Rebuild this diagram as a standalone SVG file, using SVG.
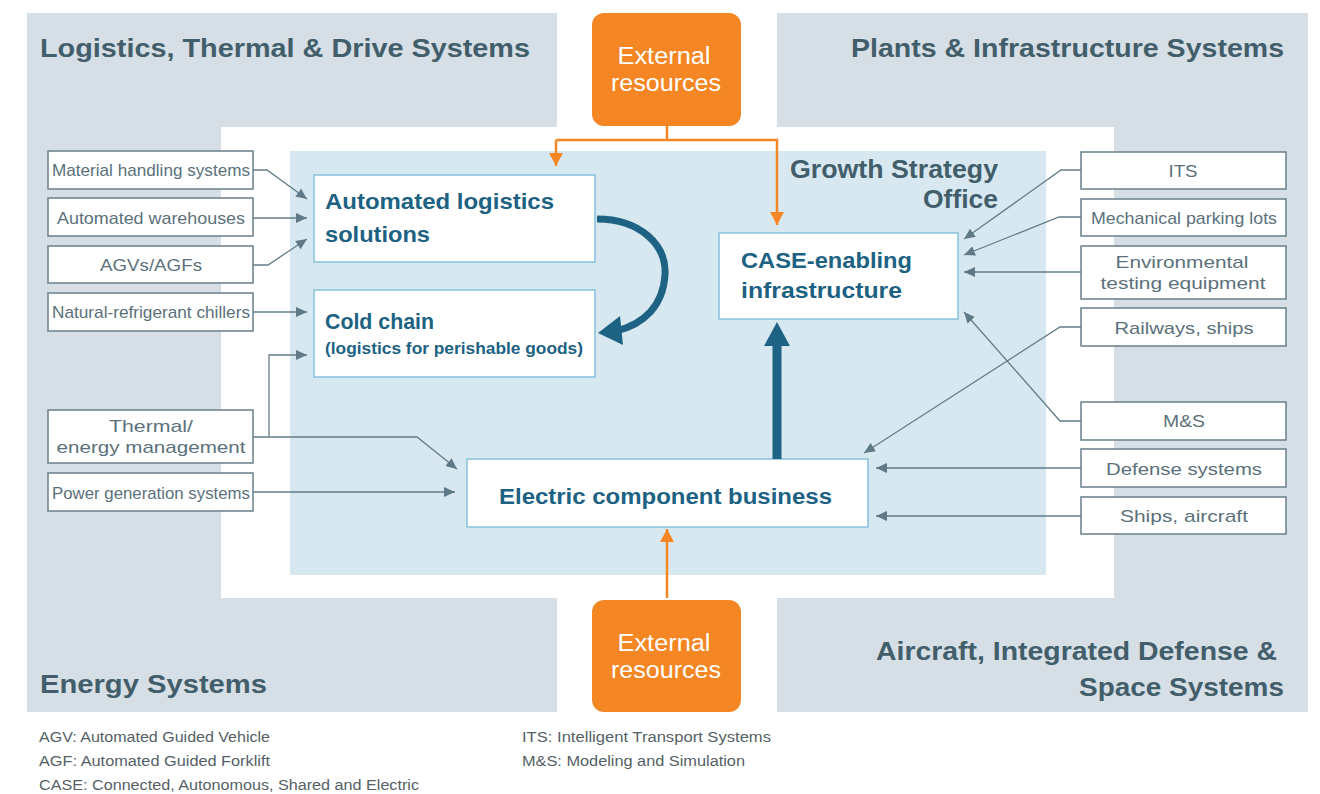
<svg xmlns="http://www.w3.org/2000/svg" width="1320" height="794" viewBox="0 0 1320 794">
<style>
.quad{fill:#d6dfe5}
.title{font-family:"Liberation Sans",Arial,sans-serif;font-weight:bold;font-size:26px;fill:#425e6b}
.main{fill:#ffffff;stroke:#86c1dc;stroke-width:1.5}
.mt{font-family:"Liberation Sans",Arial,sans-serif;font-weight:bold;font-size:22px;fill:#1d6283}
.sb{fill:#ffffff;stroke:#687f8a;stroke-width:1.5}
.st{font-family:"Liberation Sans",Arial,sans-serif;font-size:17px;fill:#5b717b;text-anchor:middle}
.ext{fill:#f48623}
.et{font-family:"Liberation Sans",Arial,sans-serif;font-size:23px;fill:#ffffff;text-anchor:middle}
.conn{fill:none;stroke:#637d89;stroke-width:1.3}
.oc{fill:none;stroke:#f48623;stroke-width:2.5}
.fn{font-family:"Liberation Sans",Arial,sans-serif;font-size:14px;fill:#555f66}
</style>
<defs>
<marker id="ah" markerUnits="userSpaceOnUse" markerWidth="12" markerHeight="10" refX="11" refY="5" orient="auto">
<path d="M0,0 L11,5 L0,10 z" fill="#5f7a86"/>
</marker>
<marker id="oh" markerUnits="userSpaceOnUse" markerWidth="14" markerHeight="14" refX="13" refY="7" orient="auto">
<path d="M0,0 L13,7 L0,14 z" fill="#f48623"/>
</marker>
</defs>

<g id="background">
<rect class="quad" x="27" y="13" width="1281" height="699"/>
<rect x="557" y="13" width="220" height="699" fill="#ffffff"/>
<rect x="221" y="127" width="893" height="471" fill="#ffffff"/>
<rect x="290" y="151" width="756" height="424" fill="#d8e8f1"/>
</g>

<g id="quadrant-titles">
<text class="title" x="40" y="57" textLength="490" lengthAdjust="spacingAndGlyphs">Logistics, Thermal &amp; Drive Systems</text>
<text class="title" x="851" y="57" textLength="433" lengthAdjust="spacingAndGlyphs">Plants &amp; Infrastructure Systems</text>
<text class="title" x="40" y="693" textLength="227" lengthAdjust="spacingAndGlyphs">Energy Systems</text>
<text class="title" x="876" y="660" textLength="401" lengthAdjust="spacingAndGlyphs">Aircraft, Integrated Defense &amp;</text>
<text class="title" x="1079" y="696" textLength="205" lengthAdjust="spacingAndGlyphs">Space Systems</text>
<text class="title" x="790" y="178" textLength="208" lengthAdjust="spacingAndGlyphs">Growth Strategy</text>
<text class="title" x="923" y="208" textLength="75" lengthAdjust="spacingAndGlyphs">Office</text>
</g>

<g id="ext-top">
<rect class="ext" x="592" y="13" width="149" height="113" rx="12"/>
<text class="et" x="664" y="64" textLength="93" lengthAdjust="spacingAndGlyphs">External</text>
<text class="et" x="666" y="91" textLength="110" lengthAdjust="spacingAndGlyphs">resources</text>
</g>
<g id="ext-bottom">
<rect class="ext" x="592" y="600" width="149" height="112" rx="12"/>
<text class="et" x="664" y="651" textLength="93" lengthAdjust="spacingAndGlyphs">External</text>
<text class="et" x="666" y="678" textLength="110" lengthAdjust="spacingAndGlyphs">resources</text>
</g>

<g id="automated-logistics">
<rect class="main" x="314" y="175" width="281" height="87"/>
<text class="mt" x="325" y="209" textLength="229" lengthAdjust="spacingAndGlyphs">Automated logistics</text>
<text class="mt" x="325" y="242" textLength="105" lengthAdjust="spacingAndGlyphs">solutions</text>
</g>
<g id="cold-chain">
<rect class="main" x="314" y="290" width="281" height="87"/>
<text class="mt" x="325" y="329" textLength="109" lengthAdjust="spacingAndGlyphs">Cold chain</text>
<text class="mt" x="325" y="354" style="font-size:16px" textLength="258" lengthAdjust="spacingAndGlyphs">(logistics for perishable goods)</text>
</g>
<g id="case-infra">
<rect class="main" x="719" y="233" width="239" height="86"/>
<text class="mt" x="741" y="268" textLength="171" lengthAdjust="spacingAndGlyphs">CASE-enabling</text>
<text class="mt" x="741" y="298" textLength="161" lengthAdjust="spacingAndGlyphs">infrastructure</text>
</g>
<g id="electric">
<rect class="main" x="467" y="459" width="401" height="68"/>
<text class="mt" x="499" y="504" textLength="333" lengthAdjust="spacingAndGlyphs">Electric component business</text>
</g>

<g id="left-material"><rect class="sb" x="48" y="151" width="205" height="38"/><text class="st" x="151" y="176" textLength="198" lengthAdjust="spacingAndGlyphs">Material handling systems</text></g>
<g id="left-warehouses"><rect class="sb" x="48" y="198" width="205" height="38"/><text class="st" x="151" y="224" textLength="188" lengthAdjust="spacingAndGlyphs">Automated warehouses</text></g>
<g id="left-agv"><rect class="sb" x="48" y="246" width="205" height="37"/><text class="st" x="151" y="271" textLength="102" lengthAdjust="spacingAndGlyphs">AGVs/AGFs</text></g>
<g id="left-chillers"><rect class="sb" x="48" y="293" width="205" height="38"/><text class="st" x="151" y="318" textLength="198" lengthAdjust="spacingAndGlyphs">Natural-refrigerant chillers</text></g>
<g id="left-thermal"><rect class="sb" x="48" y="410" width="205" height="53"/><text class="st" x="151" y="432" textLength="84" lengthAdjust="spacingAndGlyphs">Thermal/</text><text class="st" x="151" y="453" textLength="189" lengthAdjust="spacingAndGlyphs">energy management</text></g>
<g id="left-power"><rect class="sb" x="48" y="473" width="205" height="38"/><text class="st" x="151" y="499" textLength="198" lengthAdjust="spacingAndGlyphs">Power generation systems</text></g>

<g id="right-its"><rect class="sb" x="1081" y="152" width="205" height="37"/><text class="st" x="1183" y="177" textLength="29" lengthAdjust="spacingAndGlyphs">ITS</text></g>
<g id="right-parking"><rect class="sb" x="1081" y="199" width="205" height="37"/><text class="st" x="1184" y="224" textLength="186" lengthAdjust="spacingAndGlyphs">Mechanical parking lots</text></g>
<g id="right-env"><rect class="sb" x="1081" y="246" width="205" height="53"/><text class="st" x="1182" y="268" textLength="133" lengthAdjust="spacingAndGlyphs">Environmental</text><text class="st" x="1183" y="289" textLength="165" lengthAdjust="spacingAndGlyphs">testing equipment</text></g>
<g id="right-rail"><rect class="sb" x="1081" y="308" width="205" height="38"/><text class="st" x="1184" y="334" textLength="139" lengthAdjust="spacingAndGlyphs">Railways, ships</text></g>
<g id="right-ms"><rect class="sb" x="1081" y="402" width="205" height="38"/><text class="st" x="1184" y="427" textLength="42" lengthAdjust="spacingAndGlyphs">M&amp;S</text></g>
<g id="right-defense"><rect class="sb" x="1081" y="449" width="205" height="38"/><text class="st" x="1184" y="475" textLength="156" lengthAdjust="spacingAndGlyphs">Defense systems</text></g>
<g id="right-ships"><rect class="sb" x="1081" y="497" width="205" height="37"/><text class="st" x="1184" y="522" textLength="128" lengthAdjust="spacingAndGlyphs">Ships, aircraft</text></g>

<g id="connectors">
<path class="conn" marker-end="url(#ah)" d="M253,170 H267 L307,199"/>
<path class="conn" marker-end="url(#ah)" d="M253,218 H307"/>
<path class="conn" marker-end="url(#ah)" d="M253,265 H268 L307,239"/>
<path class="conn" marker-end="url(#ah)" d="M253,312 H307"/>
<path class="conn" marker-end="url(#ah)" d="M253,437 H417 L457,469"/>
<path class="conn" marker-end="url(#ah)" d="M269,437 V355 H307"/>
<path class="conn" marker-end="url(#ah)" d="M253,492 H455"/>
<path class="conn" marker-end="url(#ah)" d="M1081,170 H1061 L964,239"/>
<path class="conn" marker-end="url(#ah)" d="M1081,217 H1059 L964,255"/>
<path class="conn" marker-end="url(#ah)" d="M1081,272 H964"/>
<path class="conn" marker-end="url(#ah)" d="M1081,421 H1060 L964,312"/>
<path class="conn" marker-end="url(#ah)" d="M1081,327 H1060 L864,453"/>
<path class="conn" marker-end="url(#ah)" d="M1081,468 H876"/>
<path class="conn" marker-end="url(#ah)" d="M1081,516 H876"/>
<path class="oc" d="M667,126 V140"/>
<path class="oc" marker-end="url(#oh)" d="M556,140 H777 V225"/>
<path class="oc" marker-end="url(#oh)" d="M556,140 V166"/>
<path class="oc" marker-end="url(#oh)" d="M667,598 V529"/>
<path d="M597,219 C640,219 667,245 665,275 C663,305 645,324 616,331" fill="none" stroke="#1e6384" stroke-width="7"/>
<path d="M598,333 L620,316 L623,345 z" fill="#1e6384"/>
<path d="M777,459 V343" fill="none" stroke="#1e6384" stroke-width="9"/>
<path d="M777,322 L764,346 L790,346 z" fill="#1e6384"/>
</g>

<g id="footnotes">
<text class="fn" x="39" y="742" textLength="231" lengthAdjust="spacingAndGlyphs">AGV: Automated Guided Vehicle</text>
<text class="fn" x="39" y="766" textLength="231" lengthAdjust="spacingAndGlyphs">AGF: Automated Guided Forklift</text>
<text class="fn" x="39" y="790" textLength="380" lengthAdjust="spacingAndGlyphs">CASE: Connected, Autonomous, Shared and Electric</text>
<text class="fn" x="522" y="742" textLength="249" lengthAdjust="spacingAndGlyphs">ITS: Intelligent Transport Systems</text>
<text class="fn" x="522" y="766" textLength="223" lengthAdjust="spacingAndGlyphs">M&amp;S: Modeling and Simulation</text>
</g>
</svg>
